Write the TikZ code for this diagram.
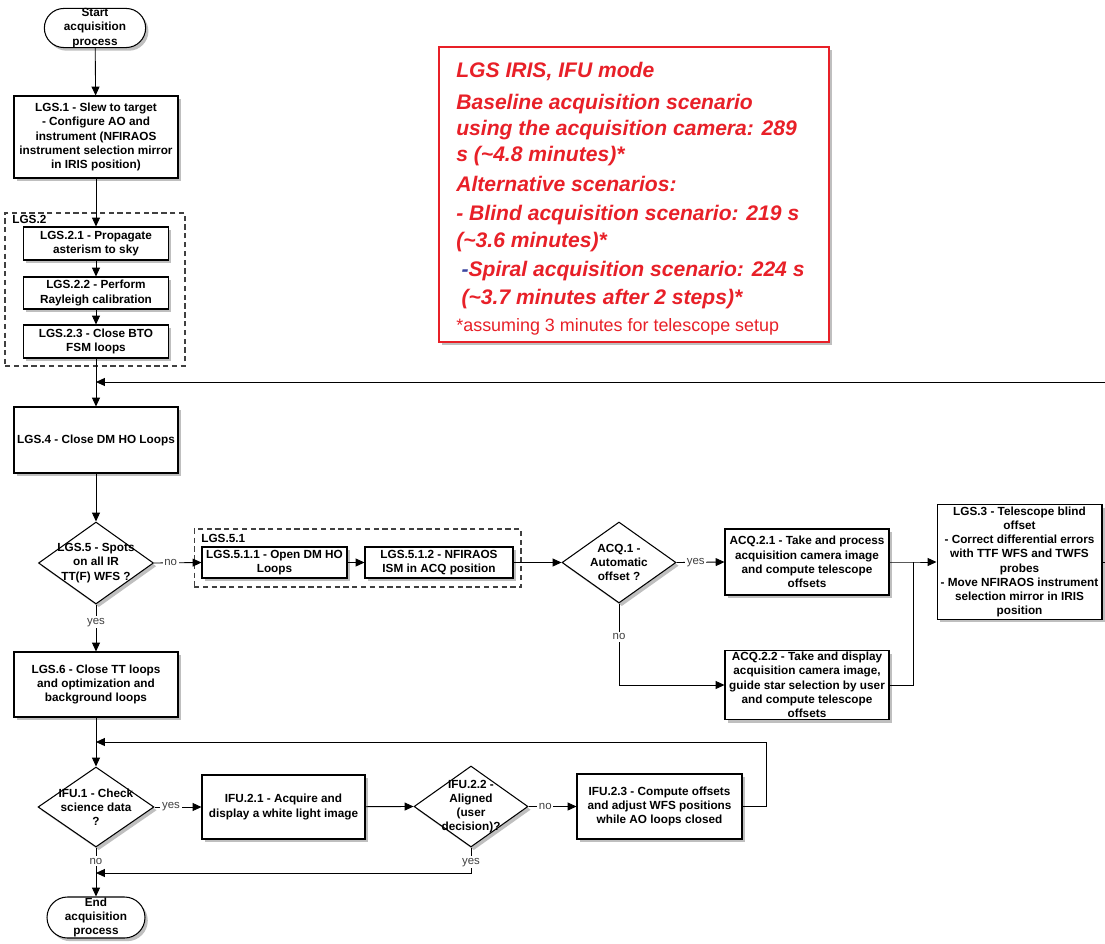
\documentclass[tikz,border=0pt]{standalone}
\usepackage{fontspec}
\setmainfont{Liberation Sans}
\usetikzlibrary{arrows.meta,shapes.geometric,shapes.misc,shadows,positioning}
\definecolor{rot}{RGB}{232,32,40}
\definecolor{strichblau}{RGB}{60,70,160}
\newcommand{\kastenfont}{\fontsize{6.7}{8.1}\selectfont\bfseries}
\tikzset{
  schatten/.style={drop shadow={shadow xshift=1.6pt,shadow yshift=-1.8pt,opacity=0.5}},
  schritt/.style={rectangle,draw,line width=0.6pt,fill=white,align=center,inner sep=1pt,font=\kastenfont,schatten},
  terminal/.style={rounded rectangle,draw,line width=0.6pt,fill=white,align=center,inner sep=0pt,font=\kastenfont,schatten},
  raute/.style={diamond,draw,line width=0.6pt,fill=white,inner sep=0pt,schatten},
  rtext/.style={align=center,inner sep=0pt,font=\kastenfont},
  gruppe/.style={rectangle,draw=black!75,dashed,line width=0.6pt,dash pattern=on 3pt off 2pt},
  gtitel/.style={anchor=west,inner sep=0pt,font=\kastenfont},
  antwort/.style={fill=white,inner sep=1pt,text=black!75,font=\fontsize{6.5}{8}\selectfont},
  pfeil/.style={-{Triangle[length=5pt,width=4.5pt]},line width=0.5pt},
  linie/.style={line width=0.5pt}
}
\begin{document}
\begin{tikzpicture}[x=0.02cm,y=-0.02cm]
\useasboundingbox (0,0) rectangle (1105,943);
%Hauptstrang links
\node[terminal,minimum width=1.98cm,minimum height=0.76cm] (start) at (95,28) {Start\\acquisition\\process};
\node[schritt,minimum width=3.28cm,minimum height=1.64cm] (lgs1) at (96,137) {LGS.1 - Slew to target\\- Configure AO and\\instrument (NFIRAOS\\instrument selection mirror\\in IRIS position)};
\node[gruppe,minimum width=3.6cm,minimum height=3.06cm] (lgs2) at (95,289.5) {};
\node[gtitel] (lgs2t) at (12,219) {LGS.2};
\node[schritt,minimum width=2.9cm,minimum height=0.66cm] (lgs21) at (96,243.5) {LGS.2.1 - Propagate\\asterism to sky};
\node[schritt,minimum width=2.9cm,minimum height=0.64cm] (lgs22) at (96,293) {LGS.2.2 - Perform\\Rayleigh calibration};
\node[schritt,minimum width=2.9cm,minimum height=0.66cm] (lgs23) at (96,341.5) {LGS.2.3 - Close BTO\\FSM loops};
\node[schritt,minimum width=3.28cm,minimum height=1.32cm] (lgs4) at (96,440) {LGS.4 - Close DM HO Loops};
\node[raute,minimum width=2.3cm,minimum height=1.64cm] (lgs5) at (96,563) {};
\node[rtext] (lgs5t) at (lgs5) {LGS.5 - Spots\\on all IR\\TT(F) WFS ?};
\node[schritt,minimum width=3.28cm,minimum height=1.3cm] (lgs6) at (96,684.5) {LGS.6 - Close TT loops\\and optimization and\\background loops};
\node[raute,minimum width=2.32cm,minimum height=1.6cm] (ifu1) at (96,807) {};
\node[rtext] (ifu1t) at (ifu1) {IFU.1 - Check\\science data\\?};
\node[terminal,minimum width=1.96cm,minimum height=0.82cm] (ende) at (96,917.5) {End\\acquisition\\process};
%LGS.5.1 und Akquisition
\node[gruppe,minimum width=6.54cm,minimum height=1.16cm] (lgs51) at (357.5,558) {};
\node[gtitel] (lgs51t) at (201,538) {LGS.5.1};
\node[schritt,minimum width=2.9cm,minimum height=0.62cm] (lgs511) at (274.5,562.5) {LGS.5.1.1 - Open DM HO\\Loops};
\node[schritt,minimum width=2.96cm,minimum height=0.62cm] (lgs512) at (439,562.5) {LGS.5.1.2 - NFIRAOS\\ISM in ACQ position};
\node[raute,minimum width=2.28cm,minimum height=1.62cm] (acq1) at (619,562.5) {};
\node[rtext] (acq1t) at (acq1) {ACQ.1 -\\Automatic\\offset ?};
\node[schritt,minimum width=3.28cm,minimum height=1.32cm] (acq21) at (807,562) {ACQ.2.1 - Take and process\\acquisition camera image\\and compute telescope\\offsets};
\node[schritt,minimum width=3.28cm,minimum height=1.32cm] (acq22) at (807,685) {ACQ.2.2 - Take and display\\acquisition camera image,\\guide star selection by user\\and compute telescope\\offsets};
\node[schritt,minimum width=3.3cm,minimum height=2.28cm] (lgs3) at (1019.5,562) {LGS.3 - Telescope blind\\offset\\- Correct differential errors\\with TTF WFS and TWFS\\probes\\- Move NFIRAOS instrument\\selection mirror in IRIS\\position};
%IFU-Schleife
\node[schritt,minimum width=3.26cm,minimum height=1.28cm] (ifu21) at (283.5,807) {IFU.2.1 - Acquire and\\display a white light image};
\node[raute,minimum width=2.28cm,minimum height=1.62cm] (ifu22) at (471,806.5) {};
\node[rtext] (ifu22t) at (ifu22) {IFU.2.2 -\\Aligned\\(user\\decision)?};
\node[schritt,minimum width=3.3cm,minimum height=1.3cm] (ifu23) at (659.5,806.5) {IFU.2.3 - Compute offsets\\and adjust WFS positions\\while AO loops closed};
%Kasten mit den Zeiten
\node[rectangle,draw=rot,line width=1.2pt,fill=white,minimum width=7.8cm,minimum height=5.9cm,schatten] (zeiten) at (634,194.5) {};
\node[anchor=north west,inner sep=0pt,align=left,text=rot,font=\fontsize{12}{14.8}\selectfont\bfseries\itshape] (zeitent) at (456,62)
  {LGS IRIS, IFU mode\\[3.4pt]
   Baseline acquisition scenario\\
   using the acquisition camera: 289\\
   s (\textasciitilde 4.8 minutes)*\\[2.3pt]
   Alternative scenarios:\\[1.7pt]
   - Blind acquisition scenario: 219 s\\[0.6pt]
   (\textasciitilde 3.6 minutes)*\\[1.8pt]
   \hspace*{3pt}{\color{strichblau}-}Spiral acquisition scenario: 224 s\\[0.8pt]
   \hspace*{3pt}(\textasciitilde 3.7 minutes after 2 steps)*\\[0.8pt]
   {\fontsize{10.2}{12}\selectfont\mdseries\upshape *assuming 3 minutes for telescope setup}};
%Verbindungen
\coordinate (einO) at (96,382);
\coordinate (randO) at (1105,382);
\coordinate (randU) at (1105,562);
\coordinate (knoten) at (913,562);
\coordinate (einM) at (96,742);
\coordinate (schleifeR) at (766,742);
\coordinate (einU) at (96,873);
\draw[pfeil] (start) -- (lgs1);
\draw[pfeil] (lgs1) -- (lgs21);
\draw[pfeil] (lgs21) -- (lgs22);
\draw[pfeil] (lgs22) -- (lgs23);
\draw[pfeil] (lgs23) -- (lgs4);
\draw[pfeil] (randO) -- (einO);
\draw[pfeil] (lgs4) -- (lgs5);
\draw[pfeil] (lgs5.east) -- node[antwort,pos=0.35]{no} (lgs511.west);
\draw[pfeil] (lgs511) -- (lgs512);
\draw[pfeil] (lgs512) -- (acq1.west);
\draw[pfeil] (acq1.east) -- node[antwort,pos=0.4]{yes} (acq21.west);
\draw[pfeil] (acq1.south) -- node[antwort,pos=0.41]{no} (acq1.south |- acq22.west) -- (acq22.west);
\draw[pfeil] (acq21.east) -- (knoten) -- (lgs3.west);
\draw[linie] (acq22.east) -| (knoten);
\draw[linie] (lgs3.east) -- (randU);
\draw[pfeil] (lgs5.south) -- node[antwort,pos=0.375]{yes} (lgs6.north);
\draw[pfeil] (lgs6) -- (ifu1.north);
\draw[pfeil] (ifu1.east) -- node[antwort,pos=0.35]{yes} (ifu21.west);
\draw[pfeil] (ifu21) -- (ifu22.west);
\draw[pfeil] (ifu22.east) -- node[antwort,pos=0.35]{no} (ifu23.west);
\draw[pfeil] (ifu23.east) -| (schleifeR) -- (einM);
\draw[pfeil] (ifu1.south) -- node[antwort,pos=0.28]{no} (ende.north);
\draw[pfeil] (ifu22.south) -- node[antwort,pos=0.58]{yes} (ifu22.south |- einU) -- (einU);
\end{tikzpicture}
\end{document}
